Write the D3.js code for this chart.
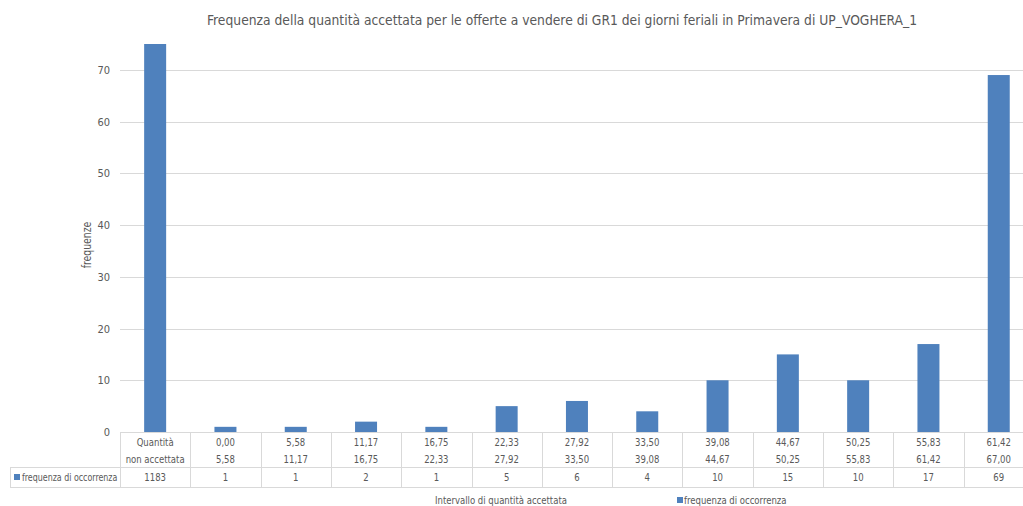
<!DOCTYPE html>
<html><head><meta charset="utf-8">
<script src="https://cdn.jsdelivr.net/npm/d3@7"></script>
<style>
body{margin:0;background:#fff;}
text{font-family:"DejaVu Sans Condensed","Liberation Sans Narrow",sans-serif;fill:#595959;}
</style></head><body>
<svg id="c" width="1023" height="506"></svg>
<script>
const categories = ["Quantità non accettata","0,00-5,58","5,58-11,17","11,17-16,75","16,75-22,33","22,33-27,92","27,92-33,50","33,50-39,08","39,08-44,67","44,67-50,25","50,25-55,83","55,83-61,42","61,42-67,00"];
const lowerLabels = ["Quantità","0,00","5,58","11,17","16,75","22,33","27,92","33,50","39,08","44,67","50,25","55,83","61,42"];
const upperLabels = ["non accettata","5,58","11,17","16,75","22,33","27,92","33,50","39,08","44,67","50,25","55,83","61,42","67,00"];
const values = [1183,1,1,2,1,5,6,4,10,15,10,17,69];
const yTicks = [0,10,20,30,40,50,60,70];
const seriesName = "frequenza di occorrenza";
const title = "Frequenza della quantità accettata per le offerte a vendere di GR1 dei giorni feriali in Primavera di UP_VOGHERA_1";
const yTitle = "frequenze";
const xTitle = "Intervallo di quantità accettata";

const svg = d3.select("#c");
const W = 1023;
const left = 120, colW = 70.3;
const x = d3.scaleBand().domain(categories).range([left, left + colW*categories.length]).padding(0);
const y = d3.scaleLinear().domain([0,75]).range([432,44]).clamp(true);
const grid = "#d9d9d9", barColor = "#4f81bd";

// gridlines
svg.append("g").selectAll("line").data(yTicks.filter(d=>d>0)).join("line")
  .attr("x1", left).attr("x2", W).attr("y1", d=>Math.round(y(d))+0.5).attr("y2", d=>Math.round(y(d))+0.5)
  .attr("stroke", grid).attr("stroke-width",1);

// y axis labels
const yAxis = d3.axisLeft(y).tickValues(yTicks).tickSize(0).tickPadding(10);
const ga = svg.append("g").attr("transform", `translate(${left},0)`).call(yAxis);
ga.select(".domain").remove();
ga.selectAll("text").style("font-size","11px").attr("fill","#595959")
  .style("font-family",'"DejaVu Sans Condensed",sans-serif');

// bars
const bw = 22;
svg.append("g").selectAll("rect").data(values).join("rect")
  .attr("x",(d,i)=>x(categories[i]) + x.bandwidth()/2 - bw/2)
  .attr("width", bw)
  .attr("y", d=>y(d))
  .attr("height", d=>y(0)-y(d))
  .attr("fill", barColor);

// data table
const t = svg.append("g");
const r0 = 432, r1 = 467, r2 = 487;
t.append("line").attr("x1",left).attr("x2",W).attr("y1",r0+0.5).attr("y2",r0+0.5).attr("stroke",grid);
t.append("line").attr("x1",10).attr("x2",W).attr("y1",r1+0.5).attr("y2",r1+0.5).attr("stroke",grid);
t.append("line").attr("x1",10).attr("x2",W).attr("y1",r2+0.5).attr("y2",r2+0.5).attr("stroke",grid);
t.append("line").attr("x1",10.5).attr("x2",10.5).attr("y1",r1).attr("y2",r2).attr("stroke",grid);
const bounds = categories.map(c=>x(c)).concat([x(categories[categories.length-1])+x.bandwidth()]);
t.selectAll(".vl").data(bounds).join("line").attr("class","vl")
  .attr("x1",d=>Math.round(d)+0.5).attr("x2",d=>Math.round(d)+0.5).attr("y1",r0).attr("y2",r2).attr("stroke",grid);
t.selectAll(".l1").data(lowerLabels).join("text").attr("class","l1 nar")
  .attr("x",(d,i)=>x(categories[i])+x.bandwidth()/2).attr("y",446).attr("text-anchor","middle")
  .style("font-size","11px").text(d=>d);
t.selectAll(".l2").data(upperLabels).join("text").attr("class","l2 nar")
  .attr("x",(d,i)=>x(categories[i])+x.bandwidth()/2).attr("y",463).attr("text-anchor","middle")
  .style("font-size","11px").text(d=>d);
t.selectAll(".v").data(values).join("text").attr("class","v nar")
  .attr("x",(d,i)=>x(categories[i])+x.bandwidth()/2).attr("y",481).attr("text-anchor","middle")
  .style("font-size","11px").text(d=>d);
t.append("rect").attr("x",14).attr("y",474).attr("width",6).attr("height",6).attr("fill",barColor);
t.append("text").attr("class","nar tight").attr("x",22).attr("y",481).style("font-size","11px").text(seriesName);

// titles
svg.append("text").attr("x",562).attr("y",25).attr("text-anchor","middle").style("font-size","14.5px")
  .attr("textLength",710).attr("lengthAdjust","spacingAndGlyphs").text(title);
svg.append("text").attr("class","nar").attr("transform","translate(91,245) rotate(-90)").attr("text-anchor","middle").style("font-size","12px").text(yTitle);
svg.append("text").attr("class","nar").attr("x",435).attr("y",504).style("font-size","11px").text(xTitle);
svg.append("rect").attr("x",677).attr("y",497).attr("width",6).attr("height",6).attr("fill",barColor);
svg.append("text").attr("class","nar").attr("x",684).attr("y",504).style("font-size","11px").text(seriesName);

// narrow the glyphs to mimic the condensed original face
svg.selectAll("text.nar").each(function(){
  const L = this.getComputedTextLength();
  const k = this.classList.contains("tight") ? 0.8 : 0.86;
  d3.select(this).attr("textLength", L*k).attr("lengthAdjust","spacingAndGlyphs");
});
</script></body></html>
